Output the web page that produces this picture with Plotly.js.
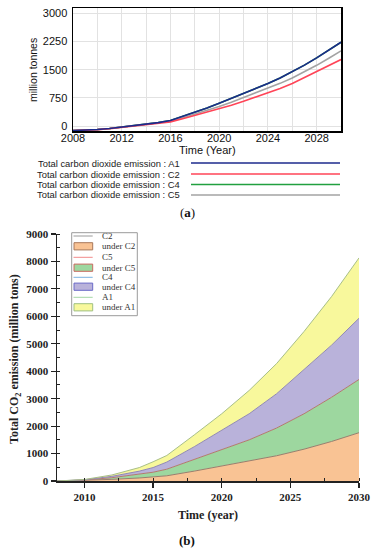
<!DOCTYPE html>
<html><head><meta charset="utf-8">
<script src="https://cdn.plot.ly/plotly-3.0.1.min.js"></script>
<style>html,body{margin:0;padding:0;background:#fff}#chart{width:374px;height:550px}</style>
</head><body><div id="chart"></div>
<script>
// ---------- Panel (a) data ----------
const yearsA = [2008,2009,2010,2011,2012,2013,2014,2015,2016,2017,2018,2019,2020,2021,2022,2023,2024,2025,2026,2027,2028,2029,2030];
const a_A1 = [-120,-115,-95,-65,-30,5,45,90,145,250,360,480,605,735,870,1000,1130,1280,1440,1620,1815,2020,2230];
const a_C4 = [-120,-115,-95,-65,-30,5,45,90,145,250,360,480,605,735,870,1000,1130,1280,1440,1620,1815,2020,2230];
const a_C5 = [-120,-115,-96,-67,-32,2,40,82,125,220,318,420,520,635,755,875,1000,1135,1280,1440,1615,1805,2000];
const a_C2 = [-120,-116,-97,-69,-35,-2,35,70,110,195,285,370,455,555,660,770,880,1000,1130,1285,1450,1610,1770];
const aNames = ['Total carbon dioxide emission : A1','Total carbon dioxide emission : C2','Total carbon dioxide emission : C4','Total carbon dioxide emission : C5'];
const aTicksY = [0,750,1500,2250,3000];

// ---------- Panel (b) data (band thickness of each stacked layer) ----------
const yearsB = [2008,2010,2012,2014,2015,2016,2018,2020,2022,2024,2026,2028,2030];
const b_C2 = [0,20,60,110,140,190,360,545,720,920,1160,1440,1760];
const b_C5 = [0,15,60,130,180,240,420,595,780,1010,1290,1610,1940];
const b_C4 = [0,10,50,120,170,260,470,710,950,1250,1600,1900,2230];
const b_A1 = [0,10,50,130,210,240,430,600,850,1100,1400,1770,2200];
const bLegend = ['C2','under C2','C5','under C5','C4','under C4','A1','under A1'];

const W=374,H=550;
const px=x=>x/W, py=y=>1-y/H;

const lineColA = {A1:'#1c2a8c', C2:'#ff4457', C4:'#22a040', C5:'#a3a3a3'};
const traces = [];
traces.push({x:yearsA,y:a_C4,mode:'lines',line:{color:lineColA.C4,width:1.6},xaxis:'x',yaxis:'y',showlegend:false});
traces.push({x:yearsA,y:a_C5,mode:'lines',line:{color:lineColA.C5,width:1.6},xaxis:'x',yaxis:'y',showlegend:false});
traces.push({x:yearsA,y:a_C2,mode:'lines',line:{color:lineColA.C2,width:1.6},xaxis:'x',yaxis:'y',showlegend:false});
traces.push({x:yearsA,y:a_A1,mode:'lines',line:{color:lineColA.A1,width:1.6},xaxis:'x',yaxis:'y',showlegend:false});

// panel (b) stacked fills
const fills = [
  {y:b_C2, fc:'#f9c394', bc:'#a8785a', lc:'#9a7e6c'},
  {y:b_C5, fc:'#9dd79f', bc:'#c86a60', lc:'#b27a6c'},
  {y:b_C4, fc:'#b9b2da', bc:'#6a6ac8', lc:'#9088b4'},
  {y:b_A1, fc:'#f8f89c', bc:'#9fc080', lc:'#a8bf88'}
];
fills.forEach(f=>{
  traces.push({x:yearsB,y:f.y,mode:'lines',stackgroup:'b',fillcolor:f.fc,line:{width:0,color:f.fc},xaxis:'x2',yaxis:'y2',showlegend:false,hoverinfo:'skip'});
});
// boundary lines (cumulative)
let cum = yearsB.map(()=>0);
fills.forEach(f=>{
  cum = cum.map((v,i)=>v+f.y[i]);
  traces.push({x:yearsB,y:cum.slice(),mode:'lines',line:{width:1,color:f.lc},xaxis:'x2',yaxis:'y2',showlegend:false});
});

const sans = 'Liberation Sans, Arial, sans-serif';
const serif = 'Liberation Serif, Times New Roman, serif';
const shapes = [], annotations = [];
const ann = (o)=>annotations.push(Object.assign({xref:'paper',yref:'paper',showarrow:false,xanchor:'center',yanchor:'middle'},o));

// custom legend (a)
const aLegCols = [lineColA.A1, lineColA.C2, lineColA.C4, lineColA.C5];
const aLegY = [163,174,184.5,195];
aNames.forEach((n,i)=>{
  ann({x:px(182),y:py(aLegY[i]),xanchor:'right',text:n,font:{family:sans,size:9.4,color:'#222'}});
  shapes.push({type:'line',xref:'paper',yref:'paper',x0:px(191),x1:px(340),y0:py(aLegY[i]),y1:py(aLegY[i]),line:{color:aLegCols[i],width:1.5}});
});

// custom legend (b)
shapes.push({type:'rect',xref:'paper',yref:'paper',x0:px(71.7),x1:px(137.3),y0:py(232.7),y1:py(315.7),line:{color:'#9a9a9a',width:1},fillcolor:'#fff'});
const bLegY = [236,246.3,257.3,267.7,277.3,286.7,297.3,307.3];
const legLine = ['#9a9a9a','#f28a8a','#7ab2e2','#a4d8a4'];
bLegend.forEach((n,i)=>{
  const k = Math.floor(i/2);
  if(i%2===0){
    shapes.push({type:'line',xref:'paper',yref:'paper',x0:px(73.5),x1:px(92.7),y0:py(bLegY[i]),y1:py(bLegY[i]),line:{color:legLine[k],width:1}});
  } else {
    shapes.push({type:'rect',xref:'paper',yref:'paper',x0:px(74),x1:px(92.7),y0:py(bLegY[i]+3.6),y1:py(bLegY[i]-3.6),line:{color:fills[k].bc,width:1},fillcolor:fills[k].fc});
  }
  ann({x:px(99.5),y:py(bLegY[i]),xanchor:'left',text:n,font:{family:serif,size:9,color:'#333'}});
});

// titles
ann({x:px(33),y:py(70),textangle:-90,text:'million tonnes',font:{family:sans,size:10.5,color:'#111'}});
ann({x:px(207.5),y:py(150),text:'Time (Year)',font:{family:sans,size:11,color:'#111'}});
ann({x:px(187),y:py(213),text:'(<b>a</b>)',font:{family:serif,size:13,color:'#111'}});
ann({x:px(15),y:py(359),textangle:-90,text:'<b>Total CO<sub>2</sub> emission (million tons)</b>',font:{family:serif,size:12,color:'#222'}});
ann({x:px(207.5),y:py(515),text:'<b>Time (year)</b>',font:{family:serif,size:12,color:'#222'}});
ann({x:px(187),y:py(540),text:'<b>(b)</b>',font:{family:serif,size:13,color:'#111'}});

const layout = {
  width:W,height:H,margin:{l:0,r:0,t:0,b:0},paper_bgcolor:'#fff',plot_bgcolor:'#fff',showlegend:false,
  xaxis:{domain:[px(73),px(341)],range:[2008,2030],tick0:2008,dtick:4,showgrid:true,gridcolor:'#e2e2e2',gridwidth:1,
    minor:{dtick:2,tick0:2008,showgrid:true,gridcolor:'#e2e2e2'},
    showline:true,mirror:true,linecolor:'#000',linewidth:1.5,ticks:'',zeroline:false,anchor:'y',automargin:false,
    ticklabelstandoff:-4,
    tickfont:{family:sans,size:11,color:'#111'}},
  yaxis:{domain:[py(131),py(8)],range:[-133,3141],tickvals:aTicksY,showgrid:true,gridcolor:'#e2e2e2',
    showline:true,mirror:true,linecolor:'#000',linewidth:1.5,ticks:'',zeroline:false,anchor:'x',automargin:false,
    ticklabelstandoff:2,
    tickfont:{family:sans,size:11,color:'#111'}},
  xaxis2:{domain:[px(57),px(359)],range:[2008,2030],tick0:2010,dtick:5,showgrid:false,zeroline:false,automargin:false,
    showline:true,linecolor:'#222',linewidth:1.5,ticks:'outside',ticklen:5,tickwidth:1.2,tickcolor:'#222',anchor:'y2',
    minor:{dtick:2.5,tick0:2010,ticks:'inside',ticklen:3,tickwidth:1,tickcolor:'#222'},
    tickfont:{family:serif,size:11,color:'#222',weight:'bold'}},
  yaxis2:{domain:[py(481),py(234)],range:[0,9000],tick0:0,dtick:1000,showgrid:false,zeroline:false,automargin:false,
    showline:true,linecolor:'#222',linewidth:1.5,ticks:'outside',ticklen:5,tickwidth:1.2,tickcolor:'#222',anchor:'x2',
    minor:{dtick:500,ticks:'inside',ticklen:3,tickwidth:1,tickcolor:'#222'},
    tickfont:{family:serif,size:11,color:'#222',weight:'bold'}},
  shapes:shapes,annotations:annotations
};
Plotly.newPlot('chart',traces,layout,{staticPlot:true,displayModeBar:false});
</script></body></html>
